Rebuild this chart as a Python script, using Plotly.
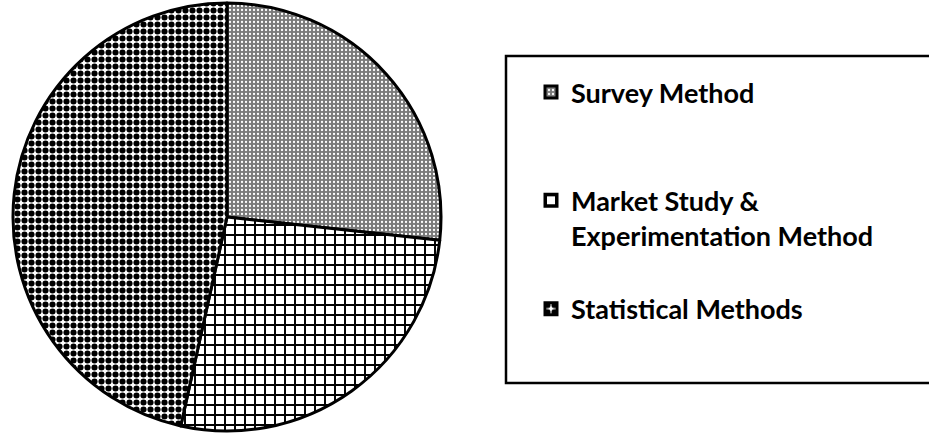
import plotly.graph_objects as go

categories = ["Survey Method", "Market Study &", "Statistical Methods"]
legend_labels = [
    "Survey Method<br> <br> ",
    "Market Study &<br>Experimentation Method<br> ",
    "Statistical Methods",
]
values = [27, 27, 47]

W, H = 929, 434

fig = go.Figure()
fig.add_trace(go.Pie(
    labels=legend_labels,
    values=values,
    sort=False,
    direction="clockwise",
    rotation=0,
    textinfo="none",
    hoverinfo="percent",
    marker=dict(
        colors=["#ffffff", "#ffffff", "#ffffff"],
        line=dict(color="#000000", width=3),
        pattern=dict(
            shape=[".", "+", "."],
            size=[4, 10, 7],
            solidity=[0.25, 0.35, 0.6],
            fgcolor=["#ffffff", "#000000", "#000000"],
            bgcolor=["#7a7a7a", "#ffffff", "#ffffff"],
            fillmode="replace",
        ),
    ),
    domain=dict(x=[13 / W, 441 / W], y=[2 / H, 432 / H]),
))

fig.update_layout(
    width=W,
    height=H,
    margin=dict(l=0, r=0, t=0, b=0),
    paper_bgcolor="#ffffff",
    plot_bgcolor="#ffffff",
    showlegend=True,
    legend=dict(
        x=531 / W,
        y=1 - 68 / H,
        xanchor="left",
        yanchor="top",
        valign="top",
        bgcolor="rgba(0,0,0,0)",
        borderwidth=0,
        font=dict(family="Lato", size=27, color="#000000", weight="bold"),
        tracegroupgap=0,
    ),
    shapes=[
        dict(type="rect", xref="paper", yref="paper",
             x0=506 / W, x1=940 / W, y0=1 - 383 / H, y1=1 - 56 / H,
             line=dict(color="#000000", width=2.5), fillcolor="rgba(0,0,0,0)", layer="below"),
    ],
)

fig.write_html("out.html")
